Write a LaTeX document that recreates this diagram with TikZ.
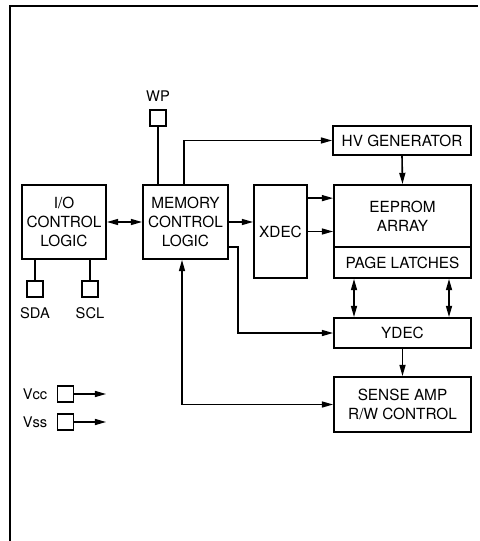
\documentclass[tikz,border=0pt]{standalone}
\usepackage{fontspec}
\setmainfont{TeX Gyre Heros}
\usetikzlibrary{calc, positioning}
\usetikzlibrary{arrows.meta}

\tikzset{
  blk/.style={draw, line width=1.3pt, align=center, inner sep=0pt,
    font=\fontsize{11.5}{14}\selectfont},
  pin/.style={draw, line width=1pt, minimum size=12pt, inner sep=0pt},
  lbl/.style={inner sep=0pt, font=\fontsize{11}{13}\selectfont},
  wire/.style={line width=1.2pt},
  arr/.style={wire, -{Triangle[length=8.5pt,width=4.5pt]}},
  dbl/.style={wire, {Triangle[length=8.5pt,width=4.5pt]}-{Triangle[length=8.5pt,width=4.5pt]}}
}

\begin{document}
\begin{tikzpicture}[x=0.75pt,y=-0.75pt]
\path[use as bounding box] (0,0) rectangle (479,541);

% frame
\draw[line width=1.4pt] (10,541) -- (10,6) -- (478,6);

% blocks
\node[blk, minimum width=63pt, minimum height=55.5pt] (io) at (64,222) {I/O\\CONTROL\\LOGIC};
\node[blk, minimum width=63.75pt, minimum height=55.5pt] (mem) at (185.5,222) {MEMORY\\CONTROL\\LOGIC};
\node[blk, minimum width=39.75pt, minimum height=69.75pt] (xdec) at (280.5,231.5) {XDEC};
\node[blk, minimum width=103.5pt, minimum height=21.75pt] (hv) at (402,140.5) {HV GENERATOR};
\node[blk, minimum width=102.75pt, minimum height=46.5pt] (eeprom) at (402.5,216) {EEPROM\\ARRAY};
\node[blk, minimum width=102.75pt, minimum height=23.25pt] (latch) at (402.5,262.5) {PAGE LATCHES};
\node[blk, minimum width=102.75pt, minimum height=22.5pt] (ydec) at (402.5,333) {YDEC};
\node[blk, minimum width=102.75pt, minimum height=41.25pt] (sense) at (402.5,404.5) {SENSE AMP\\R/W CONTROL};

% pins
\node[pin] (wp) at (158,118) {};
\node[pin] (sda) at (35,289) {};
\node[pin] (scl) at (90,289) {};
\node[pin] (vcc) at (65.5,394) {};
\node[pin] (vss) at (65.5,422) {};
\node[lbl, above=6pt of wp] (wplbl) {WP};
\node[lbl, below=7pt of sda] (sdalbl) {SDA};
\node[lbl, below=7pt of scl] (scllbl) {SCL};
\node[lbl, left=7pt of vcc] (vcclbl) {Vcc};
\node[lbl, left=7pt of vss] (vsslbl) {Vss};
\coordinate (vccout) at ($(vcc.east)+(32,0)$);
\coordinate (vssout) at ($(vss.east)+(32,0)$);

% tap points
\coordinate (hvtap) at ($(mem.north)+(-1.5,0)$);
\coordinate (xtop) at ($(xdec.north east)+(0,14)$);
\coordinate (ytap) at ($(mem.south east)+(0,-13)$);
\coordinate (ybend) at ($(ytap)+(9,0)$);
\coordinate (latl) at ($(latch.south)+(-48.5,0)$);
\coordinate (latr) at ($(latch.south)+(46.5,0)$);
\coordinate (stap) at ($(mem.south)+(-3.5,0)$);

% connections
\draw[wire] (wp.south) -- (wp.south |- mem.north);
\draw[wire] (sda.north) -- (sda.north |- io.south);
\draw[wire] (scl.north) -- (scl.north |- io.south);
\draw[arr] (vcc.east) -- (vccout);
\draw[arr] (vss.east) -- (vssout);

\draw[dbl] (io.east) -- (mem.west);
\draw[arr] (mem.east) -- (mem.east -| xdec.west);
\draw[arr] (hvtap) |- (hv.west);
\draw[arr] (hv.south) -- (eeprom.north);
\draw[arr] (xtop) -- (xtop -| eeprom.west);
\draw[arr] (xdec.east) -- (xdec.east -| eeprom.west);
\draw[arr] (ytap) -- (ybend) |- (ydec.west);
\draw[dbl] (latl) -- (latl |- ydec.north);
\draw[dbl] (latr) -- (latr |- ydec.north);
\draw[arr] (ydec.south) -- (sense.north);
\draw[dbl] (stap) |- (sense.west);
\end{tikzpicture}
\end{document}
